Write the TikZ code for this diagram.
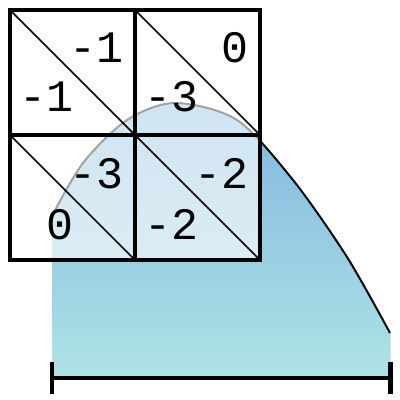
\documentclass[tikz,border=0pt]{standalone}
\usepackage{fontspec}
\setmonofont{Liberation Mono}
\definecolor{skyblue}{RGB}{130, 182, 222}
\definecolor{paleteal}{RGB}{173, 227, 230}
\usetikzlibrary{arrows.meta}

\begin{document}
\begin{tikzpicture}[x=0.025cm, y=-0.025cm]
                \tikzstyle{cell} = [draw, fill=white, fill opacity=0.63, rectangle, line width=2.5pt, minimum size=3.125cm, inner sep=0pt, outer sep=0pt]
                \tikzstyle{diag} = [line width=1.1pt]
                \tikzstyle{num} = [inner sep=0pt, anchor=base east, font=\ttfamily\fontsize{32}{32}\selectfont]
                \tikzstyle{curve} = [line width=1.4pt]
                \tikzstyle{bracket} = [line width=2.85pt, {Bar[width=0.8cm]}-{Bar[width=0.8cm]}]

                \useasboundingbox (0,0) rectangle (400,400);

                % area under the curve
                \fill [top color=skyblue, bottom color=paleteal] (52,378) -- plot[smooth] coordinates {(52,216) (83,163) (127,120) (175,103) (237,120) (293,180) (347,257) (390,333)} -- (390,378) -- cycle;
                \draw [curve] plot[smooth] coordinates {(52,216) (83,163) (127,120) (175,103) (237,120) (293,180) (347,257) (390,333)};

                % grid
                \node [cell] (c11) at (72.5,72.5) {};
                \node [cell] (c12) at (197.5,72.5) {};
                \node [cell] (c21) at (72.5,197.5) {};
                \node [cell] (c22) at (197.5,197.5) {};
                \foreach \c in {c11,c12,c21,c22}
                    \draw [diag] (\c.north west) -- (\c.south east);

                \node [num] (u11) at (124,63) {-1};
                \node [num] (l11) at (74,112) {-1};
                \node [num] (u12) at (249,63) {0};
                \node [num] (l12) at (199,112) {-3};
                \node [num] (u21) at (124,188) {-3};
                \node [num] (l21) at (74,239) {0};
                \node [num] (u22) at (249,188) {-2};
                \node [num] (l22) at (199,239) {-2};

                % width bracket
                \coordinate (bl) at (49.5,378);
                \coordinate (br) at (392.5,378);
                \draw [bracket] (bl) -- (br);
            \end{tikzpicture}
\end{document}
